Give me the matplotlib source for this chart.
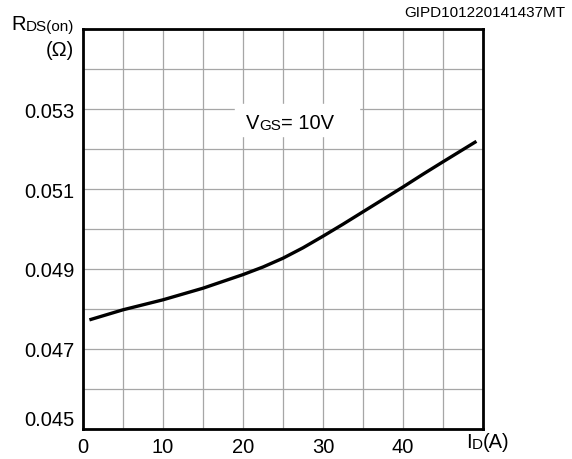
import matplotlib
matplotlib.use("Agg")
import matplotlib.pyplot as plt

plt.rcParams['font.family'] = ['Liberation Sans', 'DejaVu Sans']

corriente = [1, 5, 10, 15, 20, 22.5, 25, 27.5, 30, 32.5, 35, 37.5, 40, 42.5, 45, 49]
resistencia = [0.04774, 0.04798, 0.04823, 0.04852, 0.04886, 0.04905, 0.04927,
               0.04953, 0.04982, 0.05012, 0.05043, 0.05074, 0.05105, 0.05137,
               0.05168, 0.05217]

xticks = [0, 10, 20, 30, 40]
yticks = [0.045, 0.047, 0.049, 0.051, 0.053]
codigo = 'GIPD101220141437MT'

GRANDE = 14.5
PEQ = 11


def texto_partes(ax, x, y, partes, coords, ha='left'):
    # dibuja texto con trozos de distinto tamaño en la misma linea
    fig = ax.figure
    r = fig.canvas.get_renderer()
    objs = []
    prev = None
    for txt, size in partes:
        if prev is None:
            t = ax.text(x, y, txt, fontsize=size, transform=coords,
                        ha='left', va='bottom')
        else:
            t = ax.annotate(txt, xy=(1, 0), xycoords=prev, fontsize=size,
                            ha='left', va='bottom')
        objs.append(t)
        prev = t
    if ha != 'left':
        total = sum(o.get_window_extent(r).width for o in objs)
        shift = total if ha == 'right' else total / 2
        x0, y0 = coords.transform((x, y))
        x1, _ = coords.inverted().transform((x0 - shift, y0))
        objs[0].set_x(x1)
    return objs


fig = plt.figure(figsize=(5.72, 4.6), dpi=100)
ax = fig.add_axes([83 / 572, 30 / 460, 400 / 572, 400 / 460])

ax.plot(corriente, resistencia, color='black', linewidth=2.4, zorder=3,
        solid_joinstyle='round')

ax.set_xlim(0, 50)
ax.set_ylim(0.045, 0.055)
ax.set_xticks(range(0, 51, 5))
ax.set_yticks([0.045 + 0.001 * i for i in range(11)])
ax.grid(True, color='#a6a6a6', linewidth=0.9)
ax.set_axisbelow(True)
ax.tick_params(length=0, labelsize=GRANDE, pad=6)

xl = [str(v) if v in xticks else '' for v in range(0, 51, 5)]
ax.set_xticklabels(xl)
yl = []
for i in range(11):
    v = round(0.045 + 0.001 * i, 3)
    yl.append('%.3f' % v if v in yticks else '')
ax.set_yticklabels(yl)
ax.get_yticklabels()[0].set_va('bottom')

for s in ax.spines.values():
    s.set_linewidth(2.0)
    s.set_color('black')

fig.canvas.draw()

# etiqueta eje y
texto_partes(ax, 74 / 572, 1 - 34 / 460, [('R', GRANDE), ('DS(on)', PEQ)],
             fig.transFigure, ha='right')
fig.text(74 / 572, 1 - 51 / 460, '(Ω)', fontsize=GRANDE, ha='right', va='center')

# etiqueta eje x
texto_partes(ax, 488 / 572, 1 - 452 / 460, [('I', GRANDE), ('D', PEQ), ('(A)', GRANDE)],
             fig.transFigure, ha='center')

# anotacion VGS
fondo = plt.Rectangle((235 / 572, 1 - 137 / 460), 124 / 572, 32 / 460,
                      transform=fig.transFigure, color='white', zorder=2)
ax.add_patch(fondo)
partes = texto_partes(ax, 290 / 572, 1 - 133 / 460,
                      [('V', GRANDE), ('GS', PEQ), ('= 10V', GRANDE)],
                      fig.transFigure, ha='center')
for p in partes:
    p.set_zorder(4)

fig.text(565 / 572, 1 - 13 / 460, codigo, fontsize=11, ha='right', va='center')

fig.savefig('out.png', dpi=100)
